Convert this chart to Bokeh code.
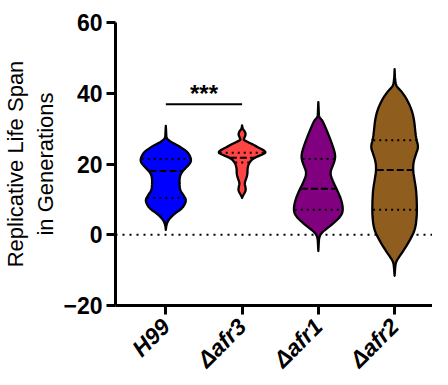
import numpy as np
from math import pi
from bokeh.plotting import figure
from bokeh.models import FixedTicker, Range1d
from bokeh.embed import file_html
from bokeh.resources import INLINE
from bokeh.core.properties import value

# ---- data ----
groups = ["H99", "Δafr3", "Δafr1", "Δafr2"]
colors = ["#0000FF", "#FF4444", "#800080", "#8F5E1F"]

# violin profiles: y level (generations) and half-width (fraction of category spacing)
h99_y = [30.8, 28.6, 27.2, 26.1, 25.2, 24.4, 23.5, 22.4, 21.0, 19.9, 18.8, 17.4,
         16.0, 14.3, 12.6, 11.2, 9.8, 8.1, 7.0, 6.2, 4.8, 3.6, 2.5, 1.4]
h99_w = [0, .005, .008, .077, .163, .219, .278, .315, .335, .309, .257, .199,
         .180, .180, .187, .232, .270, .238, .187, .129, .058, .020, .006, 0]

afr3_y = [30.9, 30.0, 29.1, 28.3, 27.5, 26.9, 26.6, 25.8, 24.6, 23.4, 22.7, 21.6,
          20.2, 18.8, 17.1, 15.7, 14.6, 13.4, 12.6, 11.8, 10.9, 10.4]
afr3_w = [0, .006, .039, .048, .032, .019, .039, .116, .219, .322, .270, .142,
          .090, .071, .071, .051, .032, .045, .049, .032, .008, 0]

afr1_y = [37.5, 35.0, 33.3, 32.5, 31.8, 29.0, 26.2, 23.4, 21.6, 19.7, 17.4, 15.0,
          12.2, 9.4, 6.6, 4.8, 2.4, 0.6, -0.8, -2.5, -4.6]
afr1_w = [0, .005, .008, .045, .064, .120, .171, .215, .223, .193, .151, .193,
          .257, .309, .326, .279, .151, .042, .010, .005, 0]

afr2_y = [46.8, 44.0, 42.1, 41.2, 40.3, 37.9, 35.1, 32.3, 29.5, 27.2, 24.8, 23.0,
          20.6, 18.3, 15.5, 12.7, 9.0, 5.2, 1.5, -1.3, -4.1, -6.4, -7.8, -9.8, -11.6]
afr2_w = [0, .005, .020, .058, .099, .171, .228, .257, .270, .283, .313, .283,
          .248, .241, .261, .283, .292, .292, .270, .206, .129, .055, .015, .006, 0]

# quartiles: Q1, median, Q3
h99_q = [10.4, 18.0, 21.4]
afr3_q = [20.4, 21.8, 23.2]
afr1_q = [7.1, 13.0, 21.4]
afr2_q = [7.1, 18.3, 26.7]

sig_pair = (0, 1)
sig_y = 36.9
sig_text = "***"

y_ticks = [-20, 0, 20, 40, 60]
y_min, y_max = -20, 60

profiles = [(h99_y, h99_w, h99_q), (afr3_y, afr3_w, afr3_q),
            (afr1_y, afr1_w, afr1_q), (afr2_y, afr2_w, afr2_q)]


def chaikin(ys, ws, n=2):
    pts = np.column_stack([ys, ws]).astype(float)
    for _ in range(n):
        new = [pts[0]]
        for a, b in zip(pts[:-1], pts[1:]):
            new.append(0.75 * a + 0.25 * b)
            new.append(0.25 * a + 0.75 * b)
        new.append(pts[-1])
        pts = np.array(new)
    return pts[:, 0], pts[:, 1]


FONT = "Liberation Sans"

p = figure(width=432, height=384, output_backend="svg", toolbar_location=None,
           x_range=Range1d(0.34, 4.497), y_range=Range1d(y_min, y_max),
           min_border_left=109, min_border_top=22, min_border_bottom=77,
           min_border_right=0)
p.outline_line_color = None
p.xgrid.visible = False
p.ygrid.visible = False
p.background_fill_color = "white"
p.border_fill_color = "white"

# zero reference line
p.line([p.x_range.start, p.x_range.end], [0, 0], line_color="black",
       line_width=2, line_dash="2 5")

for i, ((ys, ws, qs), col) in enumerate(zip(profiles, colors)):
    c = i + 1
    sy, sw = chaikin(ys, ws, 2)
    xs = list(c - sw) + list((c + sw)[::-1])
    yy = list(sy) + list(sy[::-1])
    p.patch(xs, yy, fill_color=col, line_color="black", line_width=2.3,
            line_join="round")
    order = np.argsort(sy)
    for k, q in enumerate(qs):
        hw = float(np.interp(q, sy[order], sw[order])) - 0.01
        dash = "7 3" if k == 1 else "2 4"
        p.segment(x0=[c - hw], y0=[q], x1=[c + hw], y1=[q], line_color="black",
                  line_width=2, line_dash=dash)

# significance bar
a, b = sig_pair
p.segment(x0=[a + 1], y0=[sig_y], x1=[b + 1], y1=[sig_y], line_color="black",
          line_width=2)
p.text(x=[(a + b) / 2 + 1], y=[sig_y + 3.0], text=[sig_text], text_align="center",
       text_baseline="alphabetic", text_font=value(FONT), text_font_style="bold",
       text_font_size="24px", text_color="black")

# axes
for ax in (p.xaxis[0], p.yaxis[0]):
    ax.axis_line_width = 3
    ax.axis_line_color = "black"
    ax.major_tick_line_width = 3
    ax.major_tick_line_color = "black"
    ax.major_tick_out = 9
    ax.major_tick_in = 0
    ax.minor_tick_out = 0
    ax.minor_tick_in = 0
    ax.major_label_text_font = FONT
    ax.major_label_text_color = "black"

p.yaxis.ticker = FixedTicker(ticks=y_ticks)
p.yaxis.major_label_text_font_style = "bold"
p.yaxis.major_label_text_font_size = "23px"
p.yaxis.major_label_standoff = 4
p.yaxis.axis_label = "Replicative Life Span\nin Generations"
p.yaxis.axis_label_text_font = FONT
p.yaxis.axis_label_text_font_style = "normal"
p.yaxis.axis_label_text_font_size = "22px"
p.yaxis.axis_label_text_color = "black"
p.yaxis.axis_label_standoff = 2

p.xaxis.ticker = FixedTicker(ticks=[i + 1 for i in range(len(groups))])
p.xaxis.major_label_overrides = {i + 1: g for i, g in enumerate(groups)}
p.xaxis.major_label_orientation = pi / 4
p.xaxis.major_label_text_font_style = "bold italic"
p.xaxis.major_label_text_font_size = "23px"
p.xaxis.major_label_standoff = 8

open("out.html", "w").write(file_html(p, INLINE))
